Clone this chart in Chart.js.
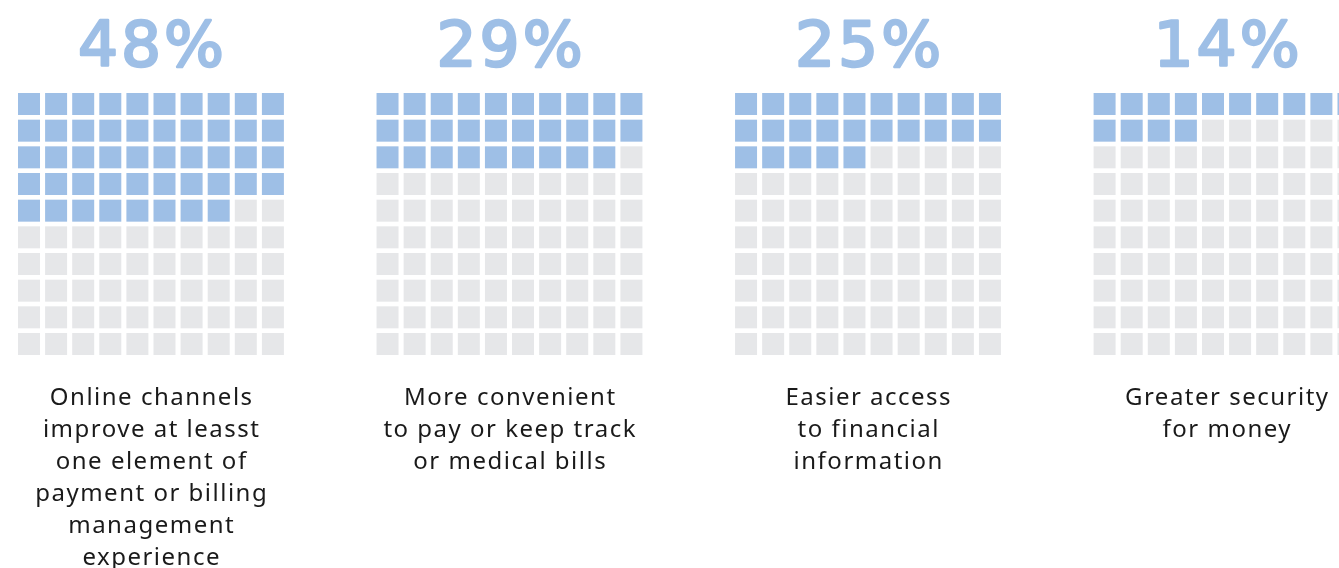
<!DOCTYPE html>
<html>
<head>
<meta charset="utf-8">
<script src="https://cdn.jsdelivr.net/npm/chart.js@4.4.1/dist/chart.umd.min.js"></script>
<style>
  html, body { margin: 0; padding: 0; background: #fff; }
  #wrap { width: 1339px; height: 568px; }
</style>
</head>
<body>
<div id="wrap"><canvas id="waffle" width="1339" height="568"></canvas></div>
<script>
// data
const percents = [48, 29, 25, 14];
const valueLabels = ['48%', '29%', '25%', '14%'];
const captions = [
  ['Online channels', 'improve at leasst', 'one element of', 'payment or billing', 'management', 'experience'],
  ['More convenient', 'to pay or keep track', 'or medical bills'],
  ['Easier access', 'to financial', 'information'],
  ['Greater security', 'for money']
];

const gridSize = 10;
const groupStep = 13.23; // in cell units, start of one waffle to the next
const blue = '#9ebfe6';
const grey = '#e6e7e9';

const filled = [];
const empty = [];
percents.forEach((p, g) => {
  for (let i = 0; i < gridSize * gridSize; i++) {
    const pt = { x: g * groupStep + (i % gridSize), y: Math.floor(i / gridSize) };
    if (i < p) filled.push(pt); else empty.push(pt);
  }
});

const cellPx = 22;

const labelPlugin = {
  id: 'waffleLabels',
  afterDatasetsDraw(chart) {
    const ctx = chart.ctx;
    const xs = chart.scales.x;
    const ys = chart.scales.y;
    const top = ys.getPixelForValue(0) - cellPx / 2;
    const bottom = ys.getPixelForValue(gridSize - 1) + cellPx / 2;
    ctx.save();
    ctx.textAlign = 'center';
    ctx.textBaseline = 'alphabetic';
    percents.forEach((p, g) => {
      const cx = xs.getPixelForValue(g * groupStep + (gridSize - 1) / 2);
      // big percentage, slightly stroked to get the rounded heavier look
      ctx.fillStyle = blue;
      ctx.strokeStyle = blue;
      ctx.lineWidth = 2.5;
      ctx.lineJoin = 'round';
      ctx.font = '63px "DejaVu Sans"';
      ctx.letterSpacing = '3px';
      ctx.fillText(valueLabels[g], cx + 1.5, top - 27);
      ctx.strokeText(valueLabels[g], cx + 1.5, top - 27);
      ctx.fillStyle = '#1a1a1a';
      ctx.font = '24px "Noto Sans"';
      ctx.letterSpacing = '1.5px';
      captions[g].forEach((line, k) => {
        ctx.fillText(line, cx + 0.75, bottom + 50 + k * 32);
      });
    });
    ctx.restore();
  }
};

new Chart(document.getElementById('waffle'), {
  type: 'scatter',
  data: {
    datasets: [
      { label: 'share', data: filled, backgroundColor: blue },
      { label: 'rest', data: empty, backgroundColor: grey }
    ]
  },
  options: {
    responsive: false,
    animation: false,
    layout: { padding: 0, autoPadding: false },
    elements: {
      point: {
        pointStyle: 'rect',
        radius: cellPx / Math.SQRT2,
        hoverRadius: cellPx / Math.SQRT2,
        borderWidth: 0
      }
    },
    scales: {
      x: { type: 'linear', display: false, min: -1.07, max: 48.34 },
      y: { type: 'linear', display: false, reverse: true, min: -3.9, max: 17.4 }
    },
    plugins: {
      legend: { display: false },
      tooltip: { enabled: false }
    }
  },
  plugins: [labelPlugin]
});
</script>
</body>
</html>
